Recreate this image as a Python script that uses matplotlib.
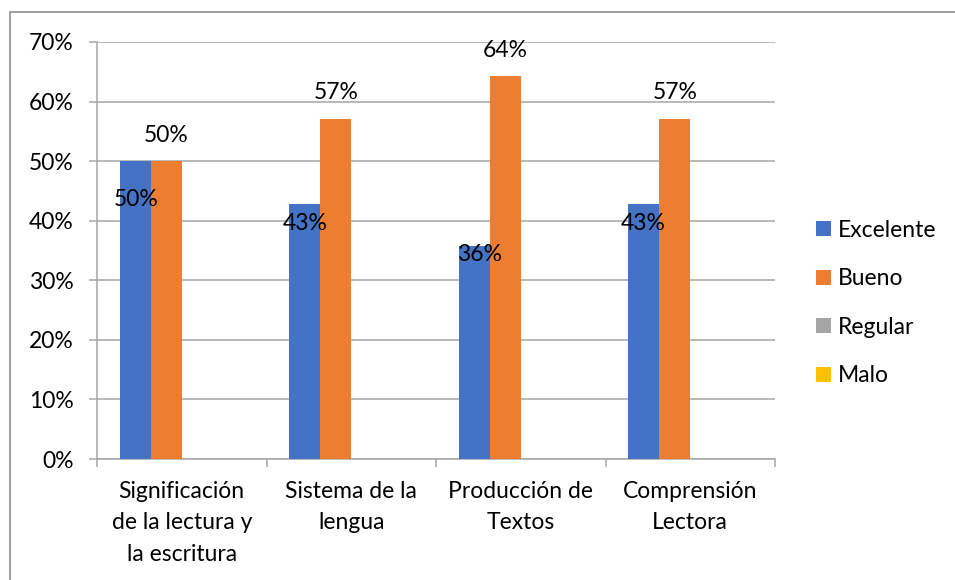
import matplotlib.pyplot as plt
import matplotlib.patches as patches
import numpy as np

categories = ['Significación\nde la lectura y\nla escritura', 'Sistema de la\nlengua',
              'Producción de\nTextos', 'Comprensión\nLectora']
series = ['Excelente', 'Bueno', 'Regular', 'Malo']
excelente = [50.0, 42.86, 35.71, 42.86]
bueno = [50.0, 57.14, 64.29, 57.14]
regular = [0, 0, 0, 0]
malo = [0, 0, 0, 0]
colors = ['#4472C4', '#ED7D31', '#A5A5A5', '#FFC000']

plt.rcParams['font.family'] = ['Lato', 'DejaVu Sans']
fs = 16.5

fig = plt.figure(figsize=(9.55, 5.8), dpi=100)
ax = fig.add_axes([97 / 955, 1 - 459 / 580, 678 / 955, 417 / 580])

x = np.arange(len(categories))
w = 0.183
data = [excelente, bueno, regular, malo]
for i, (vals, name, c) in enumerate(zip(data, series, colors)):
    ax.bar(x + (i - 1.5) * w, vals, w, color=c, label=name, zorder=3)

# value labels (pixel offsets as they sit in the original)
exc_dx = [1, 0, 5, -1]
exc_dy = [-38, -20, -8, -20]
for i, v in enumerate(excelente):
    ax.annotate('%d%%' % round(v), (x[i] - 1.5 * w, v), xytext=(exc_dx[i] * 0.72, exc_dy[i] * 0.72),
                textcoords='offset points', ha='center', va='center', fontsize=fs, zorder=4)
for i, v in enumerate(bueno):
    ax.annotate('%d%%' % round(v), (x[i] - 0.5 * w, v), xytext=(0, 26 * 0.72),
                textcoords='offset points', ha='center', va='center', fontsize=fs, zorder=4)

ax.set_xlim(-0.5, len(categories) - 0.5)
ax.set_ylim(0, 70)
ax.set_yticks(np.arange(0, 71, 10))
ax.set_yticklabels(['%d%%' % t for t in range(0, 71, 10)], fontsize=fs)
ax.yaxis.grid(True, color='#A6A6A6', lw=1.1, zorder=0)
ax.tick_params(axis='y', length=6, color='#A6A6A6', width=1.1, pad=11)

ax.set_xticks(np.arange(-0.5, len(categories), 1))
ax.set_xticklabels([])
ax.tick_params(axis='x', which='major', length=6, color='#A6A6A6', width=1.1)
ax.set_xticks(x, minor=True)
ax.set_xticklabels(categories, minor=True, fontsize=fs, linespacing=1.6)
ax.tick_params(axis='x', which='minor', length=0, pad=16)

for s in ['top', 'right']:
    ax.spines[s].set_visible(False)
for s in ['left', 'bottom']:
    ax.spines[s].set_color('#A6A6A6')
    ax.spines[s].set_linewidth(1.1)

fig.legend(loc='center left', bbox_to_anchor=(816 / 955, 1 - 303 / 580), frameon=False,
           fontsize=fs, handlelength=0.65, handleheight=0.65, handletextpad=0.3,
           labelspacing=1.2, borderpad=0, borderaxespad=0)

# outer chart frame (cut off at the right and bottom)
fig.patches.append(patches.Rectangle((9.5 / 955, -0.1), 1.2, 1.1 - 12 / 580, transform=fig.transFigure,
                                     fill=False, edgecolor='#8C8C8C', lw=1.2))

plt.savefig('out.png', dpi=100)
